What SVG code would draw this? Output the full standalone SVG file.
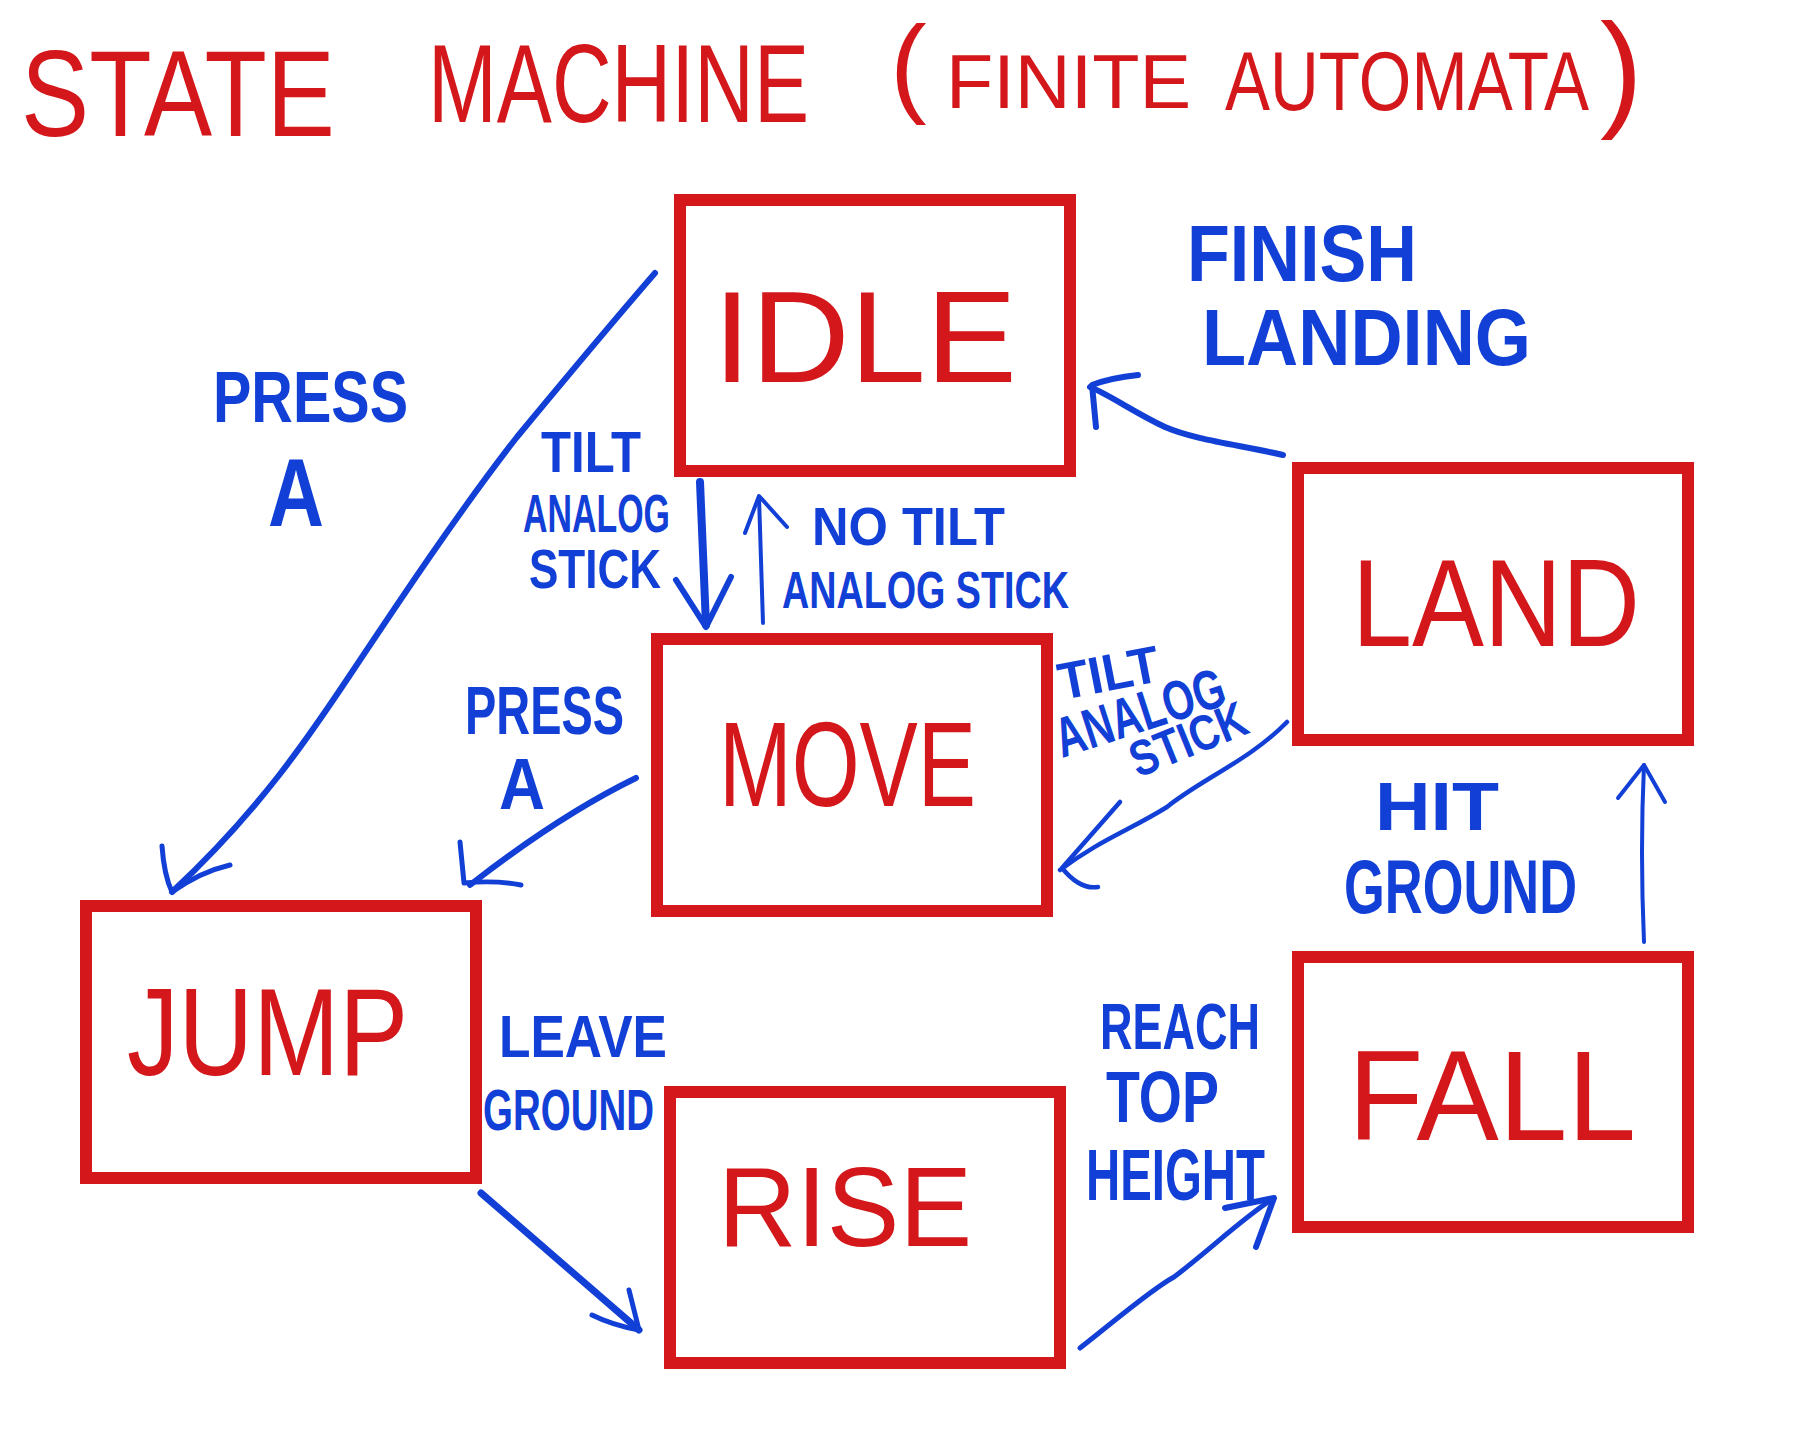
<svg xmlns="http://www.w3.org/2000/svg" width="1812" height="1447" viewBox="0 0 1812 1447">
<style>
.box{fill:none;stroke:#d3171a;stroke-width:12}
.st{font-family:"Liberation Sans",Arial,sans-serif;fill:#d3171a;font-weight:400}
.tt{font-family:"Liberation Sans",Arial,sans-serif;fill:#d3171a;font-weight:400}
.lb{font-family:"Liberation Sans",Arial,sans-serif;fill:#1240d6;font-weight:700}
.c{fill:none;stroke:#1240d6;stroke-linecap:round;stroke-linejoin:round}
</style>
<rect width="1812" height="1447" fill="#ffffff"/>
<g id="title">
<text class="tt" x="21" y="136" font-size="122" textLength="314" lengthAdjust="spacingAndGlyphs">STATE</text>
<text class="tt" x="428" y="122" font-size="112" textLength="381" lengthAdjust="spacingAndGlyphs">MACHINE</text>
<text class="tt"><tspan x="890" y="102" font-size="110">(</tspan><tspan x="946" y="108" font-size="76" textLength="245" lengthAdjust="spacingAndGlyphs">FINITE</tspan><tspan x="1225" y="110" font-size="84" textLength="364" lengthAdjust="spacingAndGlyphs">AUTOMATA</tspan><tspan x="1600" y="113" font-size="128">)</tspan></text>
</g>
<g id="node-idle">
<rect class="box" x="680" y="200" width="390" height="271"/>
<text class="st" x="713" y="382" font-size="130" textLength="304" lengthAdjust="spacingAndGlyphs">IDLE</text>
</g>
<g id="node-move">
<rect class="box" x="657" y="639" width="390" height="272"/>
<text class="st" x="719" y="806" font-size="120" textLength="257" lengthAdjust="spacingAndGlyphs">MOVE</text>
</g>
<g id="node-land">
<rect class="box" x="1298" y="468" width="390" height="272"/>
<text class="st" x="1352" y="646" font-size="125" textLength="288" lengthAdjust="spacingAndGlyphs">LAND</text>
</g>
<g id="node-jump">
<rect class="box" x="86" y="906" width="390" height="272"/>
<text class="st" x="127" y="1075" font-size="125" textLength="281" lengthAdjust="spacingAndGlyphs">JUMP</text>
</g>
<g id="node-rise">
<rect class="box" x="670" y="1092" width="390" height="271"/>
<text class="st" x="718" y="1246" font-size="114" textLength="254" lengthAdjust="spacingAndGlyphs">RISE</text>
</g>
<g id="node-fall">
<rect class="box" x="1298" y="957" width="390" height="270"/>
<text class="st" x="1348" y="1140" font-size="128" textLength="288" lengthAdjust="spacingAndGlyphs">FALL</text>
</g>
<g id="connectors">
<g id="idle-jump">
<path class="c" stroke-width="6" d="M655,273 C610,325 560,385 517,437 C460,510 400,600 350,675 C310,735 260,810 172,892"/>
<path class="c" stroke-width="5" d="M162,846 Q164,875 172,892 Q200,872 230,865"/>
</g>
<g id="idle-move">
<path class="c" stroke-width="8" d="M700,482 L706,625"/>
<path class="c" stroke-width="6" d="M676,580 L706,627 L731,577"/>
</g>
<g id="move-idle">
<path class="c" stroke-width="4" d="M763,623 L759,497"/>
<path class="c" stroke-width="4" d="M745,533 L759,496 L787,527"/>
</g>
<g id="move-jump">
<path class="c" stroke-width="6" d="M636,778 Q560,815 470,885"/>
<path class="c" stroke-width="5" d="M460,842 L464,883 Q495,880 521,885"/>
</g>
<g id="land-idle">
<path class="c" stroke-width="6" d="M1283,455 C1240,445 1195,440 1165,427 C1135,413 1110,395 1090,387"/>
<path class="c" stroke-width="6" d="M1138,375 Q1110,378 1092,385 L1096,427"/>
</g>
<g id="land-move">
<path class="c" stroke-width="4.5" d="M1287,722 C1250,760 1200,780 1167,807 C1130,830 1100,840 1060,870"/>
<path class="c" stroke-width="4.5" d="M1120,802 L1062,868 Q1080,890 1098,887"/>
</g>
<g id="fall-land">
<path class="c" stroke-width="4" d="M1644,942 Q1640,850 1644,765"/>
<path class="c" stroke-width="4" d="M1618,798 L1644,765 L1665,802"/>
</g>
<g id="jump-rise">
<path class="c" stroke-width="7" d="M481,1193 L639,1330"/>
<path class="c" stroke-width="5" d="M629,1290 L639,1330 Q612,1325 592,1315"/>
</g>
<g id="rise-fall">
<path class="c" stroke-width="5" d="M1080,1348 C1110,1325 1150,1290 1174,1277 C1210,1250 1240,1220 1274,1198"/>
<path class="c" stroke-width="6" d="M1225,1208 L1274,1198 L1256,1247"/>
</g>
</g>
<g id="labels">
<text class="lb" x="213" y="422" font-size="72" textLength="195" lengthAdjust="spacingAndGlyphs">PRESS</text>
<text class="lb" x="268" y="526" font-size="96" textLength="56" lengthAdjust="spacingAndGlyphs">A</text>
<text class="lb" x="541" y="472" font-size="58" textLength="100" lengthAdjust="spacingAndGlyphs">TILT</text>
<text class="lb" x="523" y="532" font-size="54" textLength="147" lengthAdjust="spacingAndGlyphs">ANALOG</text>
<text class="lb" x="529" y="588" font-size="56" textLength="132" lengthAdjust="spacingAndGlyphs">STICK</text>
<text class="lb" x="812" y="545" font-size="54" textLength="193" lengthAdjust="spacingAndGlyphs">NO TILT</text>
<text class="lb" x="782" y="608" font-size="52" textLength="287" lengthAdjust="spacingAndGlyphs">ANALOG STICK</text>
<text class="lb" x="465" y="734" font-size="68" textLength="159" lengthAdjust="spacingAndGlyphs">PRESS</text>
<text class="lb" x="499" y="809" font-size="72" textLength="46" lengthAdjust="spacingAndGlyphs">A</text>
<text class="lb" x="1187" y="281" font-size="80" textLength="230" lengthAdjust="spacingAndGlyphs">FINISH</text>
<text class="lb" x="1202" y="365" font-size="80" textLength="329" lengthAdjust="spacingAndGlyphs">LANDING</text>
<text class="lb" x="1062" y="700" font-size="52" textLength="102" lengthAdjust="spacingAndGlyphs" transform="rotate(-11 1062 700)">TILT</text>
<text class="lb" x="1062" y="758" font-size="56" textLength="176" lengthAdjust="spacingAndGlyphs" transform="rotate(-18 1062 758)">ANALOG</text>
<text class="lb" x="1138" y="778" font-size="50" textLength="122" lengthAdjust="spacingAndGlyphs" transform="rotate(-22 1138 778)">STICK</text>
<text class="lb" x="1375" y="830" font-size="68" textLength="124" lengthAdjust="spacingAndGlyphs">HIT</text>
<text class="lb" x="1344" y="913" font-size="76" textLength="233" lengthAdjust="spacingAndGlyphs">GROUND</text>
<text class="lb" x="499" y="1057" font-size="60" textLength="168" lengthAdjust="spacingAndGlyphs">LEAVE</text>
<text class="lb" x="483" y="1130" font-size="58" textLength="171" lengthAdjust="spacingAndGlyphs">GROUND</text>
<text class="lb" x="1100" y="1049" font-size="64" textLength="160" lengthAdjust="spacingAndGlyphs">REACH</text>
<text class="lb" x="1106" y="1122" font-size="72" textLength="113" lengthAdjust="spacingAndGlyphs">TOP</text>
<text class="lb" x="1086" y="1200" font-size="72" textLength="179" lengthAdjust="spacingAndGlyphs">HEIGHT</text>
</g>
</svg>
